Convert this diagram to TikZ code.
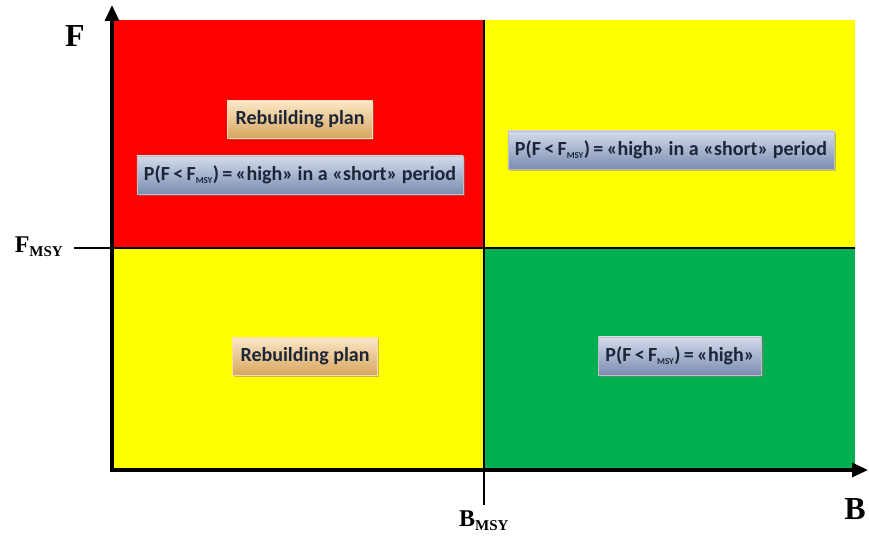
\documentclass[tikz,border=0pt]{standalone}
\usepackage{fontspec}
\setmainfont{Carlito}
\newfontfamily\axisfont{Liberation Serif}
\usetikzlibrary{shadows,arrows.meta}
\definecolor{qred}{HTML}{FF0000}
\definecolor{qyellow}{HTML}{FFFF00}
\definecolor{qgreen}{HTML}{00B050}
\definecolor{boxtxt}{HTML}{1C2638}
\definecolor{bluetop}{HTML}{D4DCEC}
\definecolor{bluebot}{HTML}{7A8CB0}
\definecolor{tantop}{HTML}{FAE8C8}
\definecolor{tanbot}{HTML}{D8A660}
\tikzset{
  bluebox/.style={draw=gray!50, top color=bluetop, bottom color=bluebot, drop shadow={shadow xshift=2pt, shadow yshift=-2pt, opacity=0.5}, inner xsep=7pt, inner ysep=10pt, font=\fontsize{20}{22}\selectfont\bfseries, text=boxtxt},
  tanbox/.style={draw=orange!30, top color=tantop, bottom color=tanbot, drop shadow={shadow xshift=2pt, shadow yshift=-2pt, opacity=0.5}, inner xsep=8pt, inner ysep=10pt, font=\fontsize{20}{22}\selectfont\bfseries, text=boxtxt},
  axislbl/.style={font=\axisfont\bfseries\fontsize{32}{34}\selectfont, inner sep=0pt},
  ticklbl/.style={font=\axisfont\bfseries\fontsize{24}{26}\selectfont, inner sep=0pt},
  axisline/.style={line width=3.2pt, -{Triangle[length=16pt,width=14pt]}},
  divline/.style={line width=2pt}
}
\newcommand{\pmsy}{P(F\,<\,F\textsubscript{\fontsize{9}{9}\selectfont MSY})\,=\,«high»}
\begin{document}
\begin{tikzpicture}[x=1pt,y=-1pt]
\useasboundingbox (0,0) rectangle (869,540);
% quadrants
\fill[qred] (113,20) rectangle (484,248);
\fill[qyellow] (484,20) rectangle (855,248);
\fill[qyellow] (113,248) rectangle (484,470);
\fill[qgreen] (484,248) rectangle (855,470);
% coordinates
\coordinate (o) at (112,470);
\coordinate (ytop) at (112,5);
\coordinate (xend) at (868,470);
\coordinate (fmsyL) at (74,248);
\coordinate (fmsyR) at (855,248);
\coordinate (bmsyT) at (484,20);
\coordinate (bmsyB) at (484,505);
% dividers
\draw[divline] (fmsyL) -- (fmsyR);
\draw[divline] (bmsyT) -- (bmsyB);
% axes
\draw[axisline] (o) -- (ytop);
\draw[axisline] ([xshift=-1.6pt]o) -- (xend);
% axis labels
\node[axislbl] (F) at (75,36) {F};
\node[axislbl] (B) at (855,509) {B};
\node[ticklbl] (Fmsy) at (39,247) {F\textsubscript{\fontsize{15}{15}\selectfont MSY}};
\node[ticklbl] (Bmsy) at (484,521) {B\textsubscript{\fontsize{15}{15}\selectfont MSY}};
% boxes
\node[tanbox] (rb1) at (300,119) {Rebuilding\ plan};
\node[bluebox] (p1) at (300,175) {\pmsy\ in\ a\ «short»\ period};
\node[bluebox] (p2) at (671,150) {\pmsy\ in\ a\ «short»\ period};
\node[tanbox] (rb2) at (305,356) {Rebuilding\ plan};
\node[bluebox] (p3) at (680,356) {\pmsy};
\end{tikzpicture}
\end{document}
